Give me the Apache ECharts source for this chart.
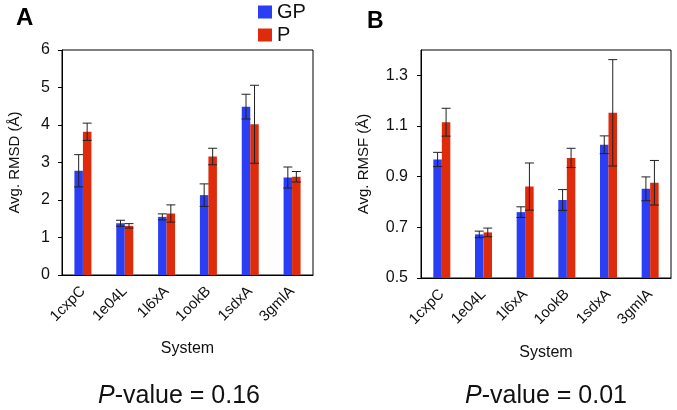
<!DOCTYPE html>
<html><head><meta charset="utf-8">
<script src="https://cdn.jsdelivr.net/npm/echarts@6/dist/echarts.min.js"></script>
<style>html,body{margin:0;padding:0;background:#fff}#c{width:677px;height:410px}</style>
</head><body><div id="c"></div>
<script>
var categories = ['1cxpC','1e04L','1l6xA','1ookB','1sdxA','3gmlA'];
var rmsdGP    = [2.78, 1.38, 1.55, 2.13, 4.49, 2.60];
var rmsdGPErr = [0.43, 0.08, 0.08, 0.30, 0.33, 0.28];
var rmsdP     = [3.82, 1.31, 1.64, 3.16, 4.02, 2.62];
var rmsdPErr  = [0.23, 0.06, 0.23, 0.22, 1.04, 0.14];
var rmsfGP    = [0.968, 0.672, 0.760, 0.808, 1.026, 0.852];
var rmsfGPErr = [0.028, 0.013, 0.021, 0.041, 0.035, 0.047];
var rmsfP     = [1.115, 0.680, 0.861, 0.974, 1.152, 0.876];
var rmsfPErr  = [0.055, 0.017, 0.093, 0.038, 0.210, 0.088];
var rmsdTicks = {min: 0, max: 6, interval: 1, showMax: true};
var rmsfTicks = {min: 0.5, max: 1.4, interval: 0.2, showMax: false};

var BLUE = '#2a3ef4', RED = '#de2b0c';
var FONT = 'Liberation Sans, Arial, sans-serif';
var BW = 8.5;

function errData(vals, errs) {
  return vals.map(function (v, i) { return [i, v - errs[i], v + errs[i]]; });
}
function errSeries(vals, errs, gi, offset) {
  return {
    type: 'custom', xAxisIndex: gi, yAxisIndex: gi, z: 10,
    encode: {x: 0, y: [1, 2]},
    data: errData(vals, errs),
    renderItem: function (params, api) {
      var lo = api.coord([api.value(0), api.value(1)]);
      var hi = api.coord([api.value(0), api.value(2)]);
      var x = lo[0] + offset, hw = 4.5;
      var st = {stroke: '#222', lineWidth: 1};
      return {type: 'group', children: [
        {type: 'line', shape: {x1: x, y1: lo[1], x2: x, y2: hi[1]}, style: st},
        {type: 'line', shape: {x1: x - hw, y1: lo[1], x2: x + hw, y2: lo[1]}, style: st},
        {type: 'line', shape: {x1: x - hw, y1: hi[1], x2: x + hw, y2: hi[1]}, style: st}
      ]};
    }
  };
}
function xAx(gi, gap) {
  return {
    type: 'category', gridIndex: gi, data: categories,
    name: 'System', nameLocation: 'middle', nameGap: gap,
    nameTextStyle: {fontFamily: FONT, fontSize: 16, color: '#111'},
    axisLine: {lineStyle: {color: '#000', width: 1}},
    axisTick: {show: false},
    axisLabel: {rotate: 45, interval: 0, fontFamily: FONT, fontSize: 15, color: '#111', margin: 14}
  };
}
function yAx(gi, t, name, gap, margin) {
  return {
    type: 'value', gridIndex: gi, min: t.min, max: t.max, interval: t.interval,
    name: name, nameLocation: 'middle', nameGap: gap, nameRotate: 90,
    nameTextStyle: {fontFamily: FONT, fontSize: 15, color: '#111'},
    splitLine: {show: false},
    axisLine: {show: true, lineStyle: {color: '#000', width: 1}},
    axisTick: {show: true, inside: false, length: 4, lineStyle: {color: '#000'}},
    axisLabel: {fontFamily: FONT, fontSize: 16, color: '#111', margin: margin, showMaxLabel: t.showMax}
  };
}
function bar(name, vals, gi, color) {
  return {
    name: name, type: 'bar', xAxisIndex: gi, yAxisIndex: gi, data: vals,
    barWidth: BW, barGap: '0%', itemStyle: {color: color}
  };
}

var chart = echarts.init(document.getElementById('c'), null, {renderer: 'canvas'});
chart.setOption({
  animation: false,
  backgroundColor: '#fff',
  legend: {
    data: ['GP', 'P'], orient: 'vertical', left: 258, top: 1, padding: 0,
    itemWidth: 14, itemHeight: 13, itemGap: 1, icon: 'rect',
    textStyle: {fontFamily: FONT, fontSize: 20, lineHeight: 22, color: '#111'}
  },
  grid: [
    {left: 62, top: 50, width: 251, height: 225, show: true, borderColor: '#000', borderWidth: 1, backgroundColor: 'transparent'},
    {left: 421, top: 50, width: 250, height: 228, show: true, borderColor: '#000', borderWidth: 1, backgroundColor: 'transparent'}
  ],
  xAxis: [xAx(0, 66), xAx(1, 67)],
  yAxis: [yAx(0, rmsdTicks, 'Avg. RMSD (Å)', 40, 12), yAx(1, rmsfTicks, 'Avg. RMSF (Å)', 50, 13)],
  series: [
    bar('GP', rmsdGP, 0, BLUE), bar('P', rmsdP, 0, RED),
    bar('GP', rmsfGP, 1, BLUE), bar('P', rmsfP, 1, RED),
    errSeries(rmsdGP, rmsdGPErr, 0, -BW / 2), errSeries(rmsdP, rmsdPErr, 0, BW / 2),
    errSeries(rmsfGP, rmsfGPErr, 1, -BW / 2), errSeries(rmsfP, rmsfPErr, 1, BW / 2)
  ],
  graphic: [
    {type: 'text', left: 16, top: 6, style: {text: 'A', font: 'bold 24px ' + FONT, fill: '#000'}},
    {type: 'text', left: 367, top: 10, style: {text: 'B', font: 'bold 23px ' + FONT, fill: '#000'}},
    {type: 'text', x: 179, y: 396, style: {
      text: '{i|P}-value = 0.16', align: 'center', verticalAlign: 'middle',
      rich: {i: {fontStyle: 'italic', fontFamily: FONT, fontSize: 25, fill: '#111'}},
      fontFamily: FONT, fontSize: 25, fill: '#111'}},
    {type: 'text', x: 546, y: 396, style: {
      text: '{i|P}-value = 0.01', align: 'center', verticalAlign: 'middle',
      rich: {i: {fontStyle: 'italic', fontFamily: FONT, fontSize: 25, fill: '#111'}},
      fontFamily: FONT, fontSize: 25, fill: '#111'}}
  ]
});
</script></body></html>
